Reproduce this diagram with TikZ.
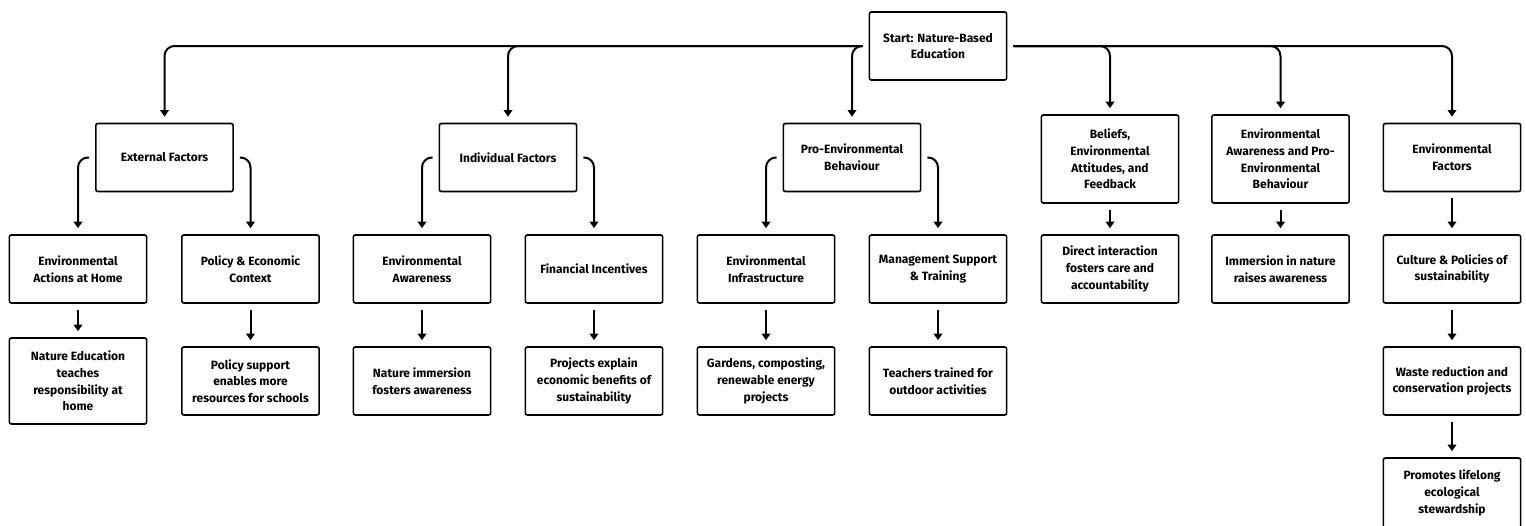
\documentclass[tikz,border=0pt]{standalone}
\usepackage{fontspec}
\setmainfont{Fira Sans}
\usetikzlibrary{arrows.meta}

\begin{document}
\begin{tikzpicture}[x=0.75pt, y=-0.75pt,
    box/.style={draw, line width=1.2pt, rounded corners=1.5pt, align=center,
        minimum width=103pt, minimum height=51pt, inner sep=2pt,
        font=\bfseries\fontsize{9}{12.5}\selectfont},
    tall/.style={box, minimum height=66pt},
    link/.style={line width=1.5pt, rounded corners=7.5pt,
        -{Triangle[length=5pt,width=6.5pt]}, shorten <=4.5pt, shorten >=4.5pt}]

            \useasboundingbox (0,0) rectangle (1526,525);

            \node[box] (start) at (938,46) {Start: Nature-Based\\Education};

            \node[box] (ext) at (164.5,157.5) {External Factors};
            \node[box] (ind) at (508,157.5) {Individual Factors};
            \node[box] (pro) at (852,157.5) {Pro-Environmental\\Behaviour};
            \node[tall] (bel) at (1110,159) {Beliefs,\\Environmental\\Attitudes, and\\Feedback};
            \node[tall] (awr) at (1280.5,159) {Environmental\\Awareness and Pro-\\Environmental\\Behaviour};
            \node[box] (envf) at (1452,157.5) {Environmental\\Factors};

            \node[box] (act) at (78,269) {Environmental\\Actions at Home};
            \node[box] (pol) at (250.5,269) {Policy \& Economic\\Context};
            \node[box] (eaw) at (422,269) {Environmental\\Awareness};
            \node[box] (fin) at (594,269) {Financial Incentives};
            \node[box] (inf) at (766,269) {Environmental\\Infrastructure};
            \node[box] (man) at (938,269) {Management Support\\\& Training};
            \node[box] (dir) at (1110,269) {Direct interaction\\fosters care and\\accountability};
            \node[box] (imm) at (1280.5,269) {Immersion in nature\\raises awareness};
            \node[box] (cul) at (1452,269) {Culture \& Policies of\\sustainability};

            \node[tall, minimum height=64.5pt] (nat) at (78,381) {Nature Education\\teaches\\responsibility at\\home};
            \node[box] (psup) at (250.5,381) {Policy support\\enables more\\resources for schools};
            \node[box] (nim) at (422,381) {Nature immersion\\fosters awareness};
            \node[box] (proj) at (594,381) {Projects explain\\economic benefits of\\sustainability};
            \node[box] (gard) at (766,381) {Gardens, composting,\\renewable energy\\projects};
            \node[box] (tea) at (938,381) {Teachers trained for\\outdoor activities};
            \node[box] (wst) at (1452,381) {Waste reduction and\\conservation projects};
            \node[box, minimum height=52.5pt] (prm) at (1452,493) {Promotes lifelong\\ecological\\stewardship};

            \draw[link] (start.west) -| (ext.north);
            \draw[link] (start.west) -| (ind.north);
            \draw[link] (start.west) -| (pro.north);
            \draw[link] (start.east) -| (bel.north);
            \draw[link] (start.east) -| (awr.north);
            \draw[link] (start.east) -| (envf.north);

            \draw[link] (ext.west) -| (act.north);
            \draw[link] (ext.east) -| (pol.north);
            \draw[link] (ind.west) -| (eaw.north);
            \draw[link] (ind.east) -| (fin.north);
            \draw[link] (pro.west) -| (inf.north);
            \draw[link] (pro.east) -| (man.north);

            \draw[link] (bel) -- (dir);
            \draw[link] (awr) -- (imm);
            \draw[link] (envf) -- (cul);

            \draw[link] (act) -- (nat);
            \draw[link] (pol) -- (psup);
            \draw[link] (eaw) -- (nim);
            \draw[link] (fin) -- (proj);
            \draw[link] (inf) -- (gard);
            \draw[link] (man) -- (tea);
            \draw[link] (cul) -- (wst);
            \draw[link] (wst) -- (prm);
        \end{tikzpicture}
\end{document}
